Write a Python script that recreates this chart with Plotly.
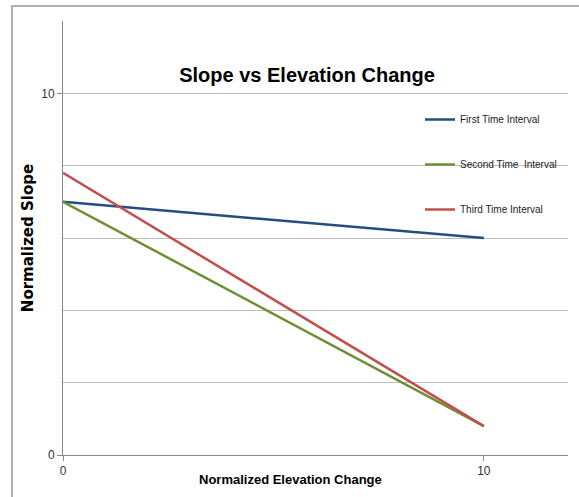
import plotly.graph_objects as go

# Data
x_vals = [0, 10]
first_interval = [7.0, 6.0]
second_interval = [7.0, 0.8]
third_interval = [7.8, 0.8]
series_names = ["First Time Interval", "Second Time  Interval", "Third Time Interval"]
series_colors = ["#254D80", "#6F8F35", "#C0504D"]
y_tick_vals = [0, 10]
x_tick_vals = [0, 10]

W, H = 579, 497
ml, mr, mt, mb = 63, 11, 21, 42
pw, ph = W - ml - mr, H - mt - mb

narrow = "Liberation Sans Narrow, Arial Narrow, Liberation Sans, Arial, sans-serif"

fig = go.Figure()
for name, ys, col in zip(series_names, [first_interval, second_interval, third_interval], series_colors):
    fig.add_trace(go.Scatter(x=x_vals, y=ys, mode="lines", name=name, legendgroup=name,
                             line=dict(color=col, width=2.5)))

# outer chart border (left and top)
bx = (12 - ml) / pw
by = 1 + (mt - 6) / ph
fig.add_shape(type="path", xref="paper", yref="paper",
              path=f"M {bx} -0.2 L {bx} {by} L 1.05 {by}",
              line=dict(color="#B0B0B0", width=2))

# x-axis title (placed off-centre as in the original)
fig.add_annotation(text="<b>Normalized Elevation Change</b>", xref="paper", yref="paper",
                   x=(290 - ml) / pw, y=-(480 - (H - mb)) / ph, xanchor="center", yanchor="middle",
                   showarrow=False, font=dict(family=narrow, size=13, color="black"))

fig.update_layout(
    width=W, height=H,
    margin=dict(l=ml, r=mr, t=mt, b=mb, autoexpand=False),
    paper_bgcolor="white", plot_bgcolor="white",
    title=dict(text="<b>Slope vs Elevation Change</b>", x=307 / W,
               xanchor="center", y=1 - 75 / H, yanchor="middle",
               font=dict(family=narrow, size=20, color="black")),
    showlegend=True,
    legend=dict(x=(420 - ml) / pw, y=1 - (105 - mt) / ph, xanchor="left", yanchor="top",
                bgcolor="rgba(0,0,0,0)", font=dict(family=narrow, size=10, color="#222"),
                tracegroupgap=26),
    xaxis=dict(range=[0, 12], tickvals=x_tick_vals, showgrid=False, zeroline=False, automargin=False,
               showline=True, linecolor="#888", linewidth=1, ticks="outside", ticklen=5, tickcolor="#888",
               tickfont=dict(family=narrow, size=12, color="#333")),
    yaxis=dict(range=[0, 12], tickvals=y_tick_vals, showgrid=True, gridcolor="#BEBEBE", zeroline=False,
               automargin=False,
               showline=True, linecolor="#888", linewidth=1, ticks="outside", ticklen=5, tickcolor="#888",
               minor=dict(tick0=0, dtick=2, showgrid=True, gridcolor="#BEBEBE", ticks=""),
               tickfont=dict(family=narrow, size=12, color="#333"),
               title=dict(text="<b>Normalized Slope</b>", standoff=3,
                          font=dict(family="Verdana, DejaVu Sans, sans-serif", size=15, color="black"))),
)

fig.write_html("out.html", config={"displayModeBar": False},
               post_script="document.body.style.margin='0';")
